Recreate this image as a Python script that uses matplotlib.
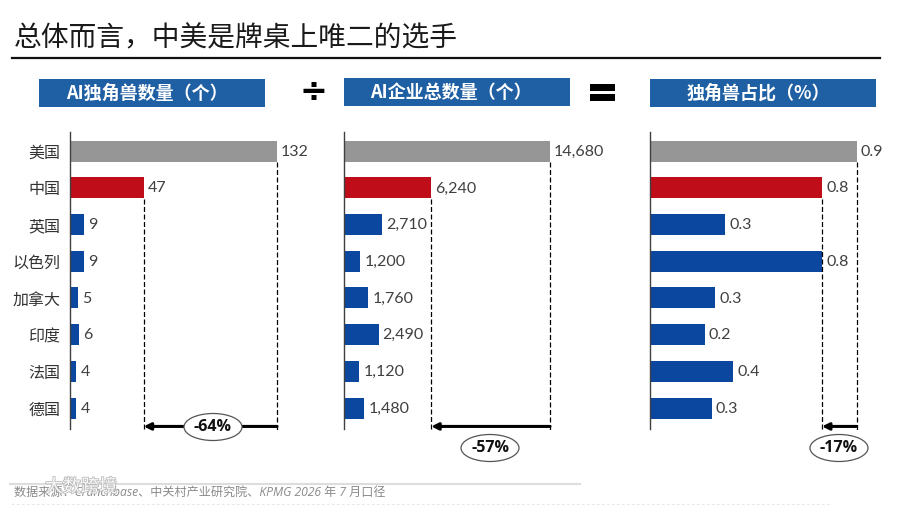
import matplotlib
matplotlib.use("Agg")
import matplotlib.pyplot as plt
import matplotlib.patheffects as pe
from matplotlib.patches import Rectangle, Ellipse

plt.rcParams['font.family'] = ['Noto Sans CJK SC', 'DejaVu Sans']

countries = ["美国", "中国", "英国", "以色列", "加拿大", "印度", "法国", "德国"]
unicorns = [132, 47, 9, 9, 5, 6, 4, 4]
companies = [14680, 6240, 2710, 1200, 1760, 2490, 1120, 1480]
shares = [0.90, 0.75, 0.33, 0.75, 0.285, 0.24, 0.365, 0.27]
unicorn_labels = ["132", "47", "9", "9", "5", "6", "4", "4"]
company_labels = ["14,680", "6,240", "2,710", "1,200", "1,760", "2,490", "1,120", "1,480"]
share_labels = ["0.9", "0.8", "0.3", "0.8", "0.3", "0.2", "0.4", "0.3"]
headers = ["AI独角兽数量（个）", "AI企业总数量（个）", "独角兽占比（%）"]
gaps = ["-64%", "-57%", "-17%"]

GREY = "#969696"
RED = "#C00D1A"
BLUE = "#0B479F"
HEADER = "#1F5FA3"
W, H = 900, 505

fig = plt.figure(figsize=(9, 5.05), dpi=100)


def pixel_axes(zorder):
    # overlay in pixel coordinates, y pointing down
    a = fig.add_axes([0, 0, 1, 1], zorder=zorder)
    a.set_xlim(0, W)
    a.set_ylim(H, 0)
    a.axis("off")
    return a


bg = pixel_axes(0)
fg = pixel_axes(5)


def panel(left, width, values, labels, gap, ell_x, ell_y, header, head_x, head_y, show_names=False):
    top, bottom = 132, 429
    ax = fig.add_axes([left / W, 1 - bottom / H, width / W, (bottom - top) / H], zorder=2)
    ax.patch.set_alpha(0)
    ys = list(range(len(values)))
    colors = [GREY, RED] + [BLUE] * (len(values) - 2)
    ax.barh(ys, values, height=0.575, color=colors)
    ax.set_xlim(0, values[0])
    ax.set_ylim(7.57, -0.52)
    for s in ["top", "right", "bottom"]:
        ax.spines[s].set_visible(False)
    ax.spines["left"].set_color("#404040")
    ax.spines["left"].set_linewidth(1)
    ax.set_xticks([])
    if show_names:
        ax.set_yticks(ys, countries, fontsize=11.5, color="#333333")
        ax.tick_params(axis="y", length=0, pad=7)
    else:
        ax.set_yticks([])
    for y, v, t in zip(ys, values, labels):
        ax.annotate(t, (v, y), xytext=(3, -0.5), textcoords="offset points", va="center", ha="left",
                    fontsize=11.5, color="#404040", family="Lato", annotation_clip=False)

    # dashed drop lines and the gap arrow between first and second bar
    ax.plot([values[0]] * 2, [0.3, 7.62], color="black", lw=0.9, ls=(0, (4, 2)), clip_on=False)
    ax.plot([values[1]] * 2, [1.3, 7.62], color="black", lw=0.9, ls=(0, (4, 2)), clip_on=False)
    ax.annotate("", xy=(values[1], 7.5), xytext=(values[0], 7.5), annotation_clip=False,
                arrowprops=dict(arrowstyle="-|>,head_length=0.4,head_width=0.2", color="black", lw=2.2,
                                shrinkA=0, shrinkB=0))

    fg.add_patch(Ellipse((ell_x, ell_y), 58, 27, fc="white", ec="#555555", lw=0.9))
    fg.text(ell_x, ell_y, gap, ha="center", va="center", fontsize=11.5, fontweight="bold",
            family="Open Sans", color="#111111")

    bg.add_patch(Rectangle((left - 31 if show_names else left, head_y), 226, 28, fc=HEADER, ec="none"))
    bg.text(head_x, head_y + 14, header, ha="center", va="center", fontsize=13, fontweight="bold",
            color="white")


bg.text(14, 38, "总体而言，中美是牌桌上唯二的选手", fontsize=20, va="center", color="#1a1a1a")
bg.plot([12, 880], [57.5, 57.5], color="#111111", lw=1.6)

panel(70, 207, unicorns, unicorn_labels, gaps[0], 213, 427, headers[0], 147, 79, show_names=True)
panel(343.5, 206.5, companies, company_labels, gaps[1], 490, 448, headers[1], 451, 78)
panel(649.5, 207, shares, share_labels, gaps[2], 839, 448, headers[2], 758, 79)

# operators between the header boxes
bg.text(313, 91, "÷", ha="center", va="center", fontsize=24, fontweight="bold", family="DejaVu Sans", color="black")
bg.add_patch(Rectangle((590, 83.5), 25, 7, fc="black", ec="none"))
bg.add_patch(Rectangle((590, 93.5), 25, 7, fc="black", ec="none"))

# footer
bg.plot([10, 580], [484, 484], color="#dddddd", lw=1.5)
bg.text(14, 492, "数据来源：Crunchbase、中关村产业研究院、KPMG 2026 年 7 月口径", fontsize=8.7, style="italic",
        family=["Open Sans", "Noto Sans CJK SC"], va="center", color="#8a8a8a")
fg.text(45, 487, "大数跨境", fontsize=13, va="center", color="white", alpha=0.9,
        path_effects=[pe.withStroke(linewidth=1.2, foreground="#b5b5b5")])
bg.plot([12, 830], [504.5, 504.5], color="#e2e2e2", lw=1.2, ls=(0, (1.5, 1.5)))

fig.savefig("out.png", dpi=100)
